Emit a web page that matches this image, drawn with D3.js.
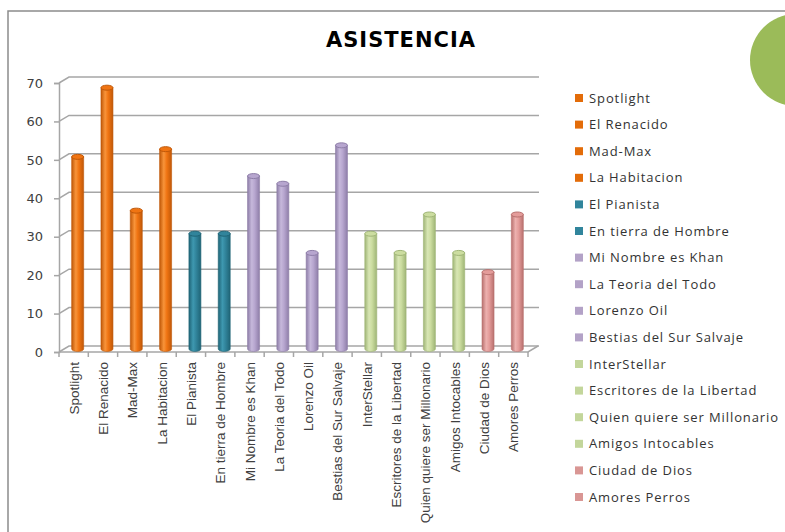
<!DOCTYPE html>
<html><head><meta charset="utf-8">
<script src="https://cdn.jsdelivr.net/npm/d3@7"></script>
<style>body{margin:0;background:#fff}svg{display:block}</style>
</head><body>
<script>
const categories = ["Spotlight","El Renacido","Mad-Max","La Habitacion","El Pianista","En tierra de Hombre","Mi Nombre es Khan","La Teoria del Todo","Lorenzo Oil","Bestias del Sur Salvaje","InterStellar","Escritores de la Libertad","Quien quiere ser Millonario","Amigos Intocables","Ciudad de Dios","Amores Perros"];
const values = [50,68,36,52,30,30,45,43,25,53,30,25,35,25,20,35];
const groups = [0,0,0,0,1,1,2,2,2,2,3,3,3,3,4,4];
const yTicks = [0,10,20,30,40,50,60,70];
const title = "ASISTENCIA";

const palette = [
  {mid:"#F07412", light:"#F8943A", dark:"#C05808", key:"#E36C09"},
  {mid:"#31849B", light:"#3E98B0", dark:"#1F6476", key:"#31859C"},
  {mid:"#B7A6CF", light:"#C6B8DB", dark:"#8E7EA8", key:"#B3A2C7"},
  {mid:"#CCDDA0", light:"#D8E6B4", dark:"#9FB576", key:"#C3D69B"},
  {mid:"#E49C9A", light:"#EDB1AF", dark:"#B8706E", key:"#D99694"}
];

const W = 785, H = 532;
const svg = d3.select("body").append("svg").attr("width", W).attr("height", H);

// frame
svg.append("path").attr("d", `M8,${H+2} V11 H${W+2}`).attr("fill","none").attr("stroke","#8c8c8c").attr("stroke-width",1.5);
// decorative circle
svg.append("circle").attr("cx",796).attr("cy",60).attr("r",46).attr("fill","#9BBB59");

svg.append("text").attr("x",401).attr("y",47).attr("text-anchor","middle")
  .attr("font-family","'DejaVu Sans', sans-serif").attr("font-weight","bold").attr("font-size",21)
  .attr("letter-spacing",1).attr("fill","#000").text(title);

const x = d3.scaleBand().domain(categories).range([59, 528]);
const y = d3.scaleLinear().domain([0,70]).range([352, 83]);
const dx = 10, dy = -6;
const gridColor = "#a6a6a6";

// back wall gridlines + side wall diagonals
const g = svg.append("g");
yTicks.forEach(t => {
  g.append("path").attr("d", `M59,${y(t)} L${59+dx},${y(t)+dy} H539`)
    .attr("fill","none").attr("stroke",gridColor).attr("stroke-width",1.5);
});
// floor
g.append("path").attr("d", `M59,352 H528 L${528+dx},${352+dy}`).attr("fill","none").attr("stroke",gridColor).attr("stroke-width",1.5);

// y axis
const yAxis = d3.axisLeft(y).tickValues(yTicks).tickSize(5).tickPadding(11);
const ya = svg.append("g").attr("transform","translate(59,0)").call(yAxis);
ya.select(".domain").attr("stroke",gridColor).attr("stroke-width",1.5);
ya.selectAll(".tick line").attr("stroke",gridColor).attr("stroke-width",1.5);
ya.selectAll("text").attr("font-family","'DejaVu Sans', sans-serif").attr("font-size",13).attr("fill","#404040");

// x axis
const xAxis = d3.axisBottom(x).tickSize(0).tickFormat("");
const xa = svg.append("g").attr("transform","translate(0,352)").call(xAxis);
xa.select(".domain").remove();
const bounds = categories.map(c => x(c)).concat([x.range()[1]]);
xa.selectAll(".bt").data(bounds).enter().append("line")
  .attr("x1",d=>d).attr("x2",d=>d).attr("y1",0).attr("y2",5).attr("stroke",gridColor).attr("stroke-width",1.5);
xa.selectAll(".xl").data(categories).enter().append("text")
  .attr("transform", d => `translate(${x(d)+x.bandwidth()/2+5},10) rotate(-90)`)
  .attr("text-anchor","end").attr("font-family","'Liberation Sans', sans-serif").attr("font-size",13.5)
  .attr("fill","#404040").text(d=>d);

// gradients
const defs = svg.append("defs");
palette.forEach((p,i) => {
  const lg = defs.append("linearGradient").attr("id","cyl"+i).attr("x1","0").attr("x2","1").attr("y1","0").attr("y2","0");
  lg.append("stop").attr("offset","0").attr("stop-color",p.dark);
  lg.append("stop").attr("offset","0.35").attr("stop-color",p.light);
  lg.append("stop").attr("offset","0.6").attr("stop-color",p.mid);
  lg.append("stop").attr("offset","1").attr("stop-color",p.dark);
});

// bars (cylinders)
const bw = 12, ry = 2.5;
const bars = svg.append("g").selectAll("g").data(categories).enter().append("g");
bars.each(function(c,i){
  const cx = x(c) + x.bandwidth()/2 + dx/2 - 1;
  const yb = y(0) + dy/2;
  const yt = y(values[i]) + dy/2;
  const p = palette[groups[i]];
  const s = d3.select(this);
  s.append("path")
    .attr("d", `M${cx-bw/2},${yt} V${yb} A${bw/2},${ry} 0 0 0 ${cx+bw/2},${yb} V${yt} Z`)
    .attr("fill", `url(#cyl${groups[i]})`).attr("stroke", p.dark).attr("stroke-width",0.6);
  s.append("ellipse").attr("cx",cx).attr("cy",yt).attr("rx",bw/2).attr("ry",ry)
    .attr("fill", p.mid).attr("stroke", p.dark).attr("stroke-width",1);
});

// legend
const leg = svg.append("g");
categories.forEach((c,i) => {
  const ly = 98 + i*26.6;
  leg.append("rect").attr("x",575).attr("y",ly-4).attr("width",8).attr("height",8).attr("fill",palette[groups[i]].key);
  leg.append("text").attr("x",589).attr("y",ly).attr("dy","0.35em")
    .attr("font-family","'Open Sans', sans-serif").attr("font-size",13).attr("letter-spacing",0.9)
    .attr("fill","#333").text(c);
});
</script>
</body></html>
